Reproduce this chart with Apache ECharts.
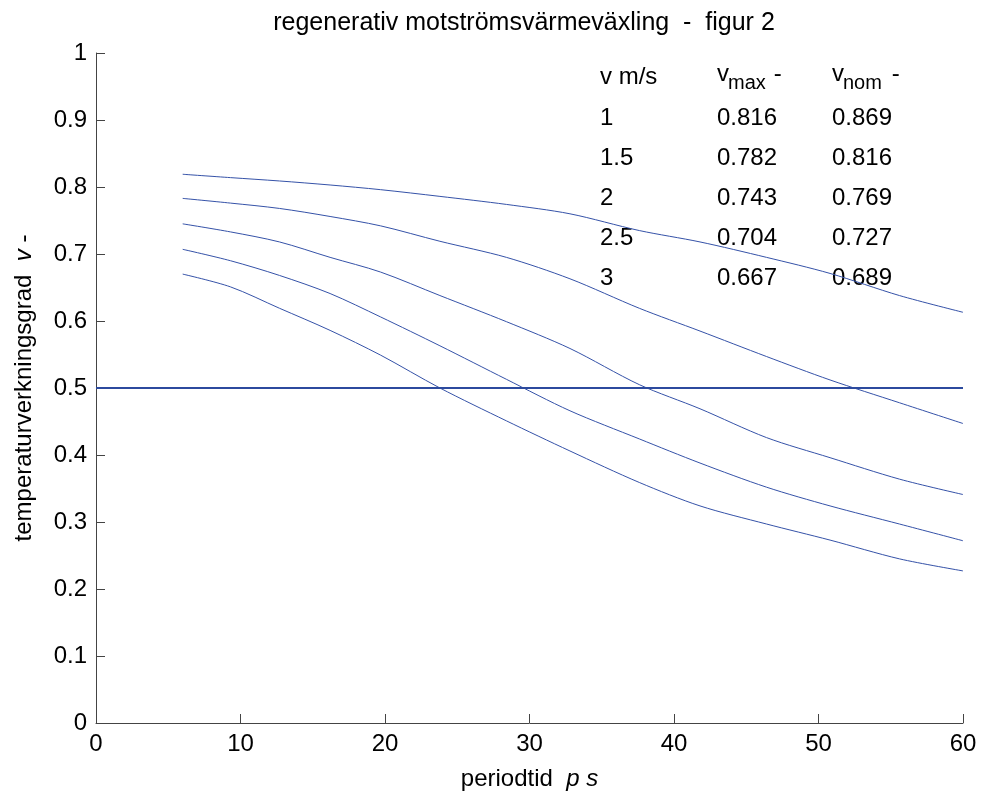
<!DOCTYPE html>
<html>
<head>
<meta charset="utf-8">
<script src="https://cdn.jsdelivr.net/npm/echarts@6/dist/echarts.min.js"></script>
<style>
  html, body { margin: 0; padding: 0; background: #fff; }
  #chart { width: 981px; height: 796px; }
</style>
</head>
<body>
<div id="chart"></div>
<script>
// periodtid p (s)
const periods = [6, 9.3, 12.7, 16.2, 19.7, 23.8, 28.4, 32.8, 37.6, 41.8, 46.4, 50.8, 55.6, 60]
// temperaturverkningsgrad per lufthastighet
const effV1 = [0.819, 0.814, 0.809, 0.803, 0.796, 0.786, 0.774, 0.760, 0.735, 0.718, 0.695, 0.671, 0.638, 0.613]
const effV15 = [0.783, 0.776, 0.768, 0.756, 0.742, 0.719, 0.695, 0.663, 0.619, 0.585, 0.547, 0.512, 0.478, 0.447]
const effV2 = [0.745, 0.733, 0.718, 0.695, 0.673, 0.638, 0.599, 0.559, 0.505, 0.469, 0.426, 0.396, 0.364, 0.341]
const effV25 = [0.707, 0.690, 0.668, 0.641, 0.606, 0.563, 0.513, 0.466, 0.424, 0.388, 0.352, 0.324, 0.297, 0.272]
const effV3 = [0.670, 0.651, 0.619, 0.586, 0.549, 0.500, 0.451, 0.406, 0.359, 0.324, 0.297, 0.273, 0.245, 0.227]

// tabell uppe till höger
const speeds = ['1', '1.5', '2', '2.5', '3']
const vMax = [0.816, 0.782, 0.743, 0.704, 0.667]
const vNom = [0.869, 0.816, 0.769, 0.727, 0.689]

const refLevel = 0.5
const xRange = [0, 60]

const font = "'Liberation Sans', Arial, sans-serif"
const lineColor = '#3552a8'

const chart = echarts.init(document.getElementById('chart'), null, { renderer: 'canvas' })

const curves = [effV1, effV15, effV2, effV25, effV3].map((vals, i) => ({
    name: speeds[i],
    type: 'line',
    data: periods.map((p, k) => [p, vals[k]]),
    showSymbol: false,
    smooth: 0.3,
    lineStyle: { color: lineColor, width: 1 },
    silent: true
}))

// tabelltext
const colX = [600, 717, 832]
const headY = 78
const rowY0 = 119
const rowStep = 40
const txt = (x, y, s, size) => ({
    type: 'text', left: x, top: y - 13,
    style: { text: s, font: `${size || 24}px ${font}`, fill: '#000', verticalAlign: 'middle', textAlign: 'left' }
})
const graphics = [
    txt(colX[0], headY, 'v m/s'),
    txt(colX[1], headY - 3, 'v'),
    txt(colX[1] + 11, headY + 8, 'max', 20),
    txt(colX[1] + 50, headY - 3, ' -'),
    txt(colX[2], headY - 3, 'v'),
    txt(colX[2] + 11, headY + 8, 'nom', 20),
    txt(colX[2] + 53, headY - 3, ' -')
]
speeds.forEach((s, i) => {
    const y = rowY0 + i * rowStep
    graphics.push(txt(colX[0], y, s))
    graphics.push(txt(colX[1], y, vMax[i].toFixed(3)))
    graphics.push(txt(colX[2], y, vNom[i].toFixed(3)))
})

chart.setOption({
    animation: false,
    backgroundColor: '#fff',
    textStyle: { fontFamily: font },
    title: {
        text: 'regenerativ motströmsvärmeväxling  -  figur 2',
        left: 519,
        textAlign: 'center',
        top: 6,
        textStyle: { fontFamily: font, fontSize: 25, fontWeight: 'normal', color: '#000' }
    },
    grid: { left: 96, right: 18, top: 53, bottom: 69 },
    xAxis: {
        type: 'value',
        min: xRange[0], max: xRange[1], interval: 10,
        name: 'periodtid  {i|p s}',
        nameLocation: 'middle',
        nameGap: 44,
        nameTextStyle: { fontFamily: font, fontSize: 24, color: '#000', rich: { i: { fontStyle: 'italic', fontSize: 24, fontFamily: font } } },
        axisLine: { show: true, lineStyle: { color: '#444', width: 1 } },
        axisTick: { show: true, inside: true, length: 9, lineStyle: { color: '#444' } },
        axisLabel: { fontFamily: font, fontSize: 24, color: '#000', margin: 9 },
        splitLine: { show: false }
    },
    yAxis: {
        type: 'value',
        min: 0, max: 1, interval: 0.1,
        name: 'temperaturverkningsgrad  {i|v} -',
        nameLocation: 'middle',
        nameGap: 60,
        nameRotate: 90,
        nameTextStyle: { fontFamily: font, fontSize: 24, color: '#000', rich: { i: { fontStyle: 'italic', fontSize: 24, fontFamily: font } } },
        axisLine: { show: true, lineStyle: { color: '#444', width: 1 } },
        axisTick: { show: true, inside: true, length: 9, lineStyle: { color: '#444' } },
        axisLabel: { fontFamily: font, fontSize: 24, color: '#000', margin: 9 },
        splitLine: { show: false }
    },
    series: [
        ...curves,
        {
            name: 'ref',
            type: 'line',
            data: xRange.map(x => [x, refLevel]),
            showSymbol: false,
            lineStyle: { color: '#2c4a9e', width: 2 },
            silent: true
        }
    ],
    graphic: graphics
})
</script>
</body>
</html>
